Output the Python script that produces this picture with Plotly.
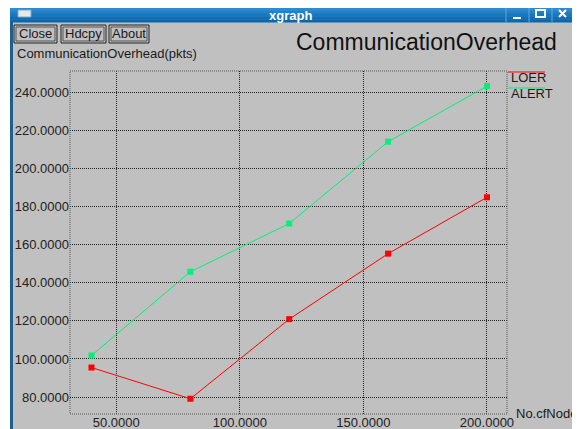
import plotly.graph_objects as go

# ---- data ----
nodes = [40, 80, 120, 160, 200]
series_names = ["LOER", "ALERT"]
loer = [95.5, 79.1, 120.9, 155.3, 184.9]
alert = [101.8, 145.8, 171.1, 214.1, 243.3]
x_ticks = [50, 100, 150, 200]
y_ticks = [80, 100, 120, 140, 160, 180, 200, 220, 240]
chart_title = "CommunicationOverhead"
y_title = "CommunicationOverhead(pkts)"
x_title = "No.cfNodes"
window_title = "xgraph"
buttons = ["Close", "Hdcpy", "About"]

# the page body has an 8px margin; screen coordinates below are shifted by it
OFF = 8
W, H = 580 - OFF, 429 - OFF
L, R, T, B = 70, 507, 71, 414  # plot area in screenshot pixels
PW, PH = R - L, B - T


def px(x):
    return (x - L) / PW


def py(y):
    return (B - y) / PH


FONT = "Liberation Sans, Arial, sans-serif"
GRAY = "#c0c0c0"

fig = go.Figure()
colors = ["#ff0000", "#00f07a"]
for name, vals, c in zip(series_names, [loer, alert], colors):
    fig.add_trace(go.Scatter(x=nodes, y=vals, mode="lines+markers", name=name,
                             line=dict(color=c, width=1),
                             marker=dict(color=c, size=6, symbol="square"),
                             showlegend=False))

shapes = []
annotations = []


def rect(x0, y0, x1, y1, fill=None, line=None, lw=1, dash=None, layer="below"):
    d = dict(type="rect", xref="paper", yref="paper",
             x0=px(x0), x1=px(x1), y0=py(y0), y1=py(y1), layer=layer,
             fillcolor=fill if fill else "rgba(0,0,0,0)",
             line=dict(width=lw if line else 0, color=line if line else "rgba(0,0,0,0)"))
    if dash:
        d["line"]["dash"] = dash
    shapes.append(d)


def seg(x0, y0, x1, y1, color, lw=1, layer="above", dash=None):
    d = dict(type="line", xref="paper", yref="paper",
             x0=px(x0), x1=px(x1), y0=py(y0), y1=py(y1), layer=layer,
             line=dict(color=color, width=lw))
    if dash:
        d["line"]["dash"] = dash
    shapes.append(d)


def text(x, y, s, size=13, color="#1a1a1a", xanchor="left", yanchor="middle", bold=False):
    annotations.append(dict(xref="paper", yref="paper", x=px(x), y=py(y), text=("<b>%s</b>" % s) if bold else s,
                            showarrow=False, xanchor=xanchor, yanchor=yanchor,
                            font=dict(family=FONT, size=size, color=color)))


# window body
rect(13, 22, 600, 440, fill=GRAY)
rect(10, 22, 13, 440, fill="#1e5f8e")
# title bar gradient
bands = ["#3b95d6", "#2f8bcf", "#2381c6", "#1877bd", "#0f6db3", "#0b66aa"]
bh = 17 / len(bands)
for i, c in enumerate(bands):
    rect(10, 5 + i * bh, 600, 5 + (i + 1) * bh + 0.5, fill=c)
# title bar icon
rect(18, 10, 31, 17, fill="#e8e8e8", line="#7aa9cc")
text(290, 15, window_title, size=13, color="white", xanchor="center", bold=True)
# window controls
for sx in [506, 529, 552, 573]:
    seg(sx, 5, sx, 22, "#5fa8e0", 1, layer="below")
seg(513, 18, 521, 18, "white", 2, layer="below")
rect(536, 10, 545, 17, line="white", lw=2)
seg(559, 10, 566, 17, "white", 2, layer="below")
seg(559, 17, 566, 10, "white", 2, layer="below")

# buttons
bx = [(14, 57), (61, 106), (109, 149)]
for (x0, x1), b in zip(bx, buttons):
    rect(x0, 25, x1, 43, line="#222222", lw=1)
    rect(x0 + 2, 27, x1 - 2, 41, line="#555555", lw=1)
    text((x0 + x1) / 2, 34, b, size=13, xanchor="center")

# titles
text(294, 42, chart_title, size=23, color="#111111")
text(15, 53, y_title, size=13)
text(514, 413, x_title, size=13)

# plot frame (dotted)
rect(L, T, R, B, line="#555555", lw=1, dash="1px,1px", layer="above")

# legend (xgraph style: line above label)
leg_y = [72, 88]
for name, c, ly in zip(series_names, colors, leg_y):
    seg(508, ly, 545, ly, c, 1)
    text(509, ly + 5, name, size=13)

fig.update_layout(
    width=W, height=H,
    margin=dict(l=L - OFF, r=580 - R, t=T - OFF, b=429 - B, pad=0, autoexpand=False),
    paper_bgcolor="white",
    plot_bgcolor=GRAY,
    shapes=shapes,
    annotations=annotations,
    font=dict(family=FONT, size=13, color="#222222"),
)
fig.update_xaxes(range=[31.3, 208.1], tickvals=x_ticks, tickformat=".4f", automargin=False,
                 showgrid=True, gridcolor="#222222", gridwidth=1, griddash="1px,1px",
                 zeroline=False, showline=False, ticks="", ticklabelstandoff=-1)
fig.update_yaxes(range=[71.1, 251.2], tickvals=y_ticks, tickformat=".4f", automargin=False,
                 showgrid=True, gridcolor="#222222", gridwidth=1, griddash="1px,1px",
                 zeroline=False, showline=False, ticks="", ticklabelstandoff=0)

fig.write_html("out.html")
